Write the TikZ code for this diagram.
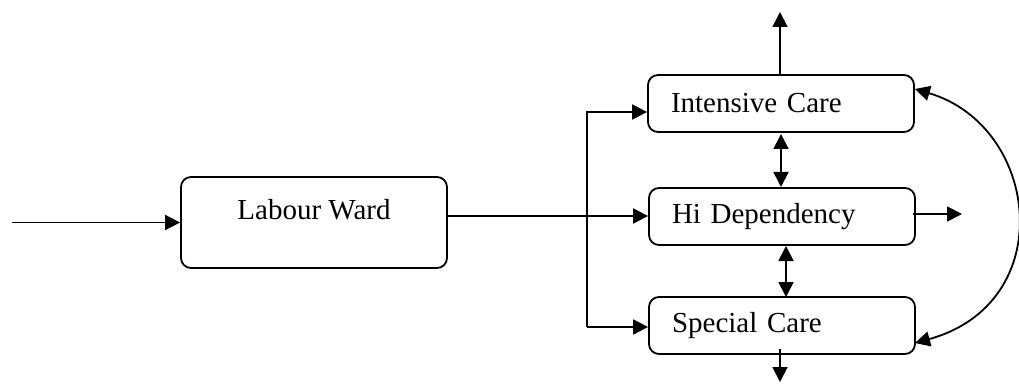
\documentclass[tikz,border=0pt]{standalone}
\usepackage{fontspec}
\setmainfont{Liberation Serif}
\usetikzlibrary{arrows.meta}
\begin{document}
\begin{tikzpicture}[x=1pt,y=-1pt,
  line width=1.8pt,
  every node/.style={font=\fontsize{29}{34}\selectfont},
  >={Triangle[length=15pt,width=15pt]},
  ward/.style={draw, rounded corners=10pt, minimum width=266pt, minimum height=57pt, inner sep=0pt},
  unit/.style={ward, text width=220pt, align=left, inner xsep=23pt}
]
\useasboundingbox (0,0) rectangle (1019,387);
\node[ward, minimum height=91pt] (lw) at (314,222.5) {};
\node (lwtext) at (314,210) {Labour Ward};
\node[unit] (ic) at (781,103.5) {Intensive Care};
\node[unit] (hd) at (782,216.5) {Hi Dependency};
\node[unit] (sc) at (782,325.5) {Special Care};
\coordinate (in) at (12,222.5);
\coordinate (bus) at (587,216);
\coordinate (up) at (780,12);
\coordinate (down) at (780,382);
\coordinate (out) at (962,214);
\draw[->] (in) -- (lw.west |- in);
\draw (lw.east |- bus) -- (bus);
\draw[->] (bus) -- (hd.west |- bus);
\draw[->] (bus |- 0,327) |- (ic.west |- 0,112);
\draw (bus |- 0,327) -- (bus);
\draw[->] (bus |- 0,327) -- (sc.west |- 0,327);
\draw[->] (ic.north -| up) -- (up);
\draw[<->] (781,134) -- (781,187);
\draw[<->] (786,246) -- (786,297);
\draw[->] (sc.south -| down) ++(0,-6) -- (down);
\draw[->] (hd.east |- out) ++(-3,0) -- (out);
\draw[<->] (ic.east |- 0,89) .. controls (1040,126) and (1060,303) .. (915,343);
\end{tikzpicture}
\end{document}
